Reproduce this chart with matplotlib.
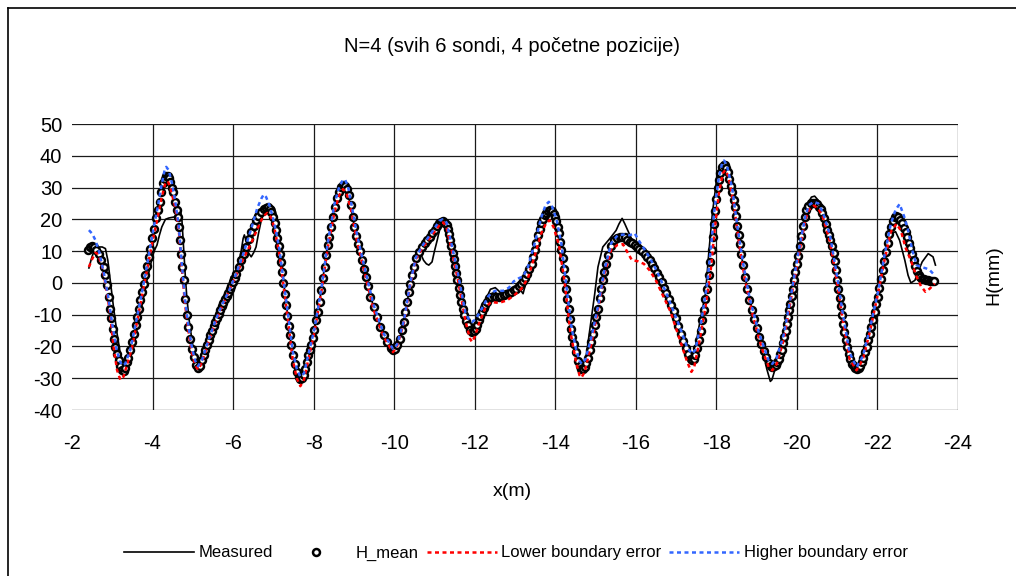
import matplotlib
matplotlib.use("Agg")
import matplotlib.pyplot as plt
from matplotlib.lines import Line2D

plt.rcParams['font.family'] = ['Liberation Sans', 'DejaVu Sans']
plt.rcParams['axes.unicode_minus'] = False

title = "N=4 (svih 6 sondi, 4 početne pozicije)"
x_label = "x(m)"
y_label = "H(mm)"
series_names = ["Measured", "H_mean", "Lower boundary error", "Higher boundary error"]
x_ticks = [-2, -4, -6, -8, -10, -12, -14, -16, -18, -20, -22, -24]
y_ticks = [-40, -30, -20, -10, 0, 10, 20, 30, 40, 50]

# H_mean (circles)
x_mean = [
-2.40,-2.45,-2.50,-2.55,-2.60,-2.66,-2.73,-2.79,-2.83,-2.87,-2.91,-2.95,-2.98,-3.01,-3.04,-3.08,-3.12,-3.16,-3.20,-3.24,
-3.28,-3.32,-3.36,-3.40,-3.45,-3.49,-3.54,-3.58,-3.62,-3.66,-3.70,-3.74,-3.78,-3.82,-3.86,-3.90,-3.94,-3.99,-4.03,-4.08,
-4.13,-4.18,-4.22,-4.27,-4.31,-4.34,-4.38,-4.41,-4.44,-4.48,-4.51,-4.56,-4.60,-4.63,-4.66,-4.69,-4.71,-4.74,-4.77,-4.81,
-4.85,-4.89,-4.94,-4.98,-5.02,-5.08,-5.13,-5.18,-5.23,-5.27,-5.31,-5.35,-5.39,-5.43,-5.47,-5.52,-5.56,-5.60,-5.64,-5.68,
-5.72,-5.76,-5.80,-5.84,-5.88,-5.92,-5.96,-6.00,-6.04,-6.08,-6.14,-6.20,-6.27,-6.33,-6.39,-6.45,-6.51,-6.57,-6.63,-6.70,
-6.76,-6.82,-6.86,-6.91,-6.95,-6.99,-7.03,-7.07,-7.10,-7.13,-7.16,-7.19,-7.22,-7.25,-7.28,-7.31,-7.35,-7.38,-7.41,-7.44,
-7.48,-7.53,-7.58,-7.63,-7.67,-7.71,-7.75,-7.79,-7.83,-7.87,-7.91,-7.94,-7.98,-8.02,-8.06,-8.10,-8.15,-8.19,-8.23,-8.27,
-8.31,-8.35,-8.39,-8.43,-8.48,-8.52,-8.58,-8.63,-8.68,-8.74,-8.78,-8.82,-8.87,-8.92,-8.97,-9.01,-9.06,-9.11,-9.16,-9.21,
-9.26,-9.30,-9.35,-9.41,-9.49,-9.58,-9.66,-9.74,-9.83,-9.91,-9.97,-10.02,-10.07,-10.14,-10.20,-10.24,-10.28,-10.32,-10.36,-10.40,
-10.45,-10.49,-10.54,-10.61,-10.69,-10.76,-10.82,-10.88,-10.94,-11.01,-11.07,-11.12,-11.16,-11.21,-11.26,-11.30,-11.33,-11.36,-11.39,-11.42,
-11.45,-11.48,-11.51,-11.54,-11.57,-11.60,-11.63,-11.66,-11.70,-11.74,-11.78,-11.83,-11.88,-11.93,-11.98,-12.02,-12.06,-12.10,-12.14,-12.18,
-12.22,-12.26,-12.30,-12.35,-12.41,-12.47,-12.54,-12.60,-12.66,-12.72,-12.78,-12.84,-12.90,-12.97,-13.03,-13.10,-13.16,-13.21,-13.26,-13.31,
-13.36,-13.41,-13.45,-13.49,-13.53,-13.57,-13.61,-13.65,-13.70,-13.74,-13.78,-13.82,-13.88,-13.92,-13.96,-14.00,-14.03,-14.06,-14.09,-14.12,
-14.15,-14.18,-14.21,-14.24,-14.27,-14.30,-14.33,-14.36,-14.39,-14.42,-14.46,-14.51,-14.56,-14.61,-14.65,-14.69,-14.73,-14.77,-14.81,-14.85,
-14.89,-14.94,-14.98,-15.02,-15.06,-15.10,-15.14,-15.18,-15.22,-15.27,-15.32,-15.39,-15.47,-15.53,-15.60,-15.66,-15.72,-15.78,-15.85,-15.91,
-15.97,-16.03,-16.09,-16.15,-16.22,-16.28,-16.34,-16.40,-16.46,-16.52,-16.58,-16.64,-16.70,-16.76,-16.82,-16.88,-16.94,-16.99,-17.05,-17.11,
-17.17,-17.24,-17.30,-17.36,-17.40,-17.44,-17.48,-17.53,-17.57,-17.61,-17.65,-17.69,-17.73,-17.77,-17.81,-17.85,-17.88,-17.91,-17.94,-17.97,
-18.00,-18.03,-18.06,-18.10,-18.14,-18.18,-18.22,-18.25,-18.28,-18.32,-18.36,-18.39,-18.43,-18.46,-18.49,-18.52,-18.55,-18.58,-18.62,-18.66,
-18.71,-18.77,-18.82,-18.88,-18.94,-19.00,-19.06,-19.12,-19.18,-19.24,-19.30,-19.35,-19.39,-19.43,-19.47,-19.51,-19.55,-19.59,-19.62,-19.66,
-19.69,-19.72,-19.75,-19.78,-19.81,-19.84,-19.87,-19.90,-19.93,-19.96,-19.99,-20.03,-20.07,-20.11,-20.15,-20.19,-20.23,-20.28,-20.34,-20.40,
-20.46,-20.51,-20.55,-20.59,-20.63,-20.67,-20.71,-20.75,-20.79,-20.83,-20.87,-20.91,-20.94,-20.97,-21.00,-21.03,-21.06,-21.09,-21.12,-21.15,
-21.18,-21.21,-21.25,-21.29,-21.33,-21.37,-21.41,-21.45,-21.49,-21.53,-21.57,-21.61,-21.65,-21.69,-21.73,-21.77,-21.81,-21.85,-21.89,-21.93,
-21.97,-22.01,-22.05,-22.09,-22.13,-22.17,-22.21,-22.25,-22.29,-22.33,-22.38,-22.43,-22.47,-22.52,-22.57,-22.62,-22.66,-22.70,-22.74,-22.78,
-22.82,-22.86,-22.90,-22.94,-22.98,-23.02,-23.06,-23.11,-23.16,-23.21,-23.26,-23.31,-23.36,-23.41]
h_mean = [
10.3,11.2,11.6,11.4,10.3,9.2,7.1,5.0,2.4,-0.7,-4.4,-8.1,-11.2,-14.4,-17.5,-20.2,-22.3,-24.4,-26.3,-27.3,
-27.6,-26.7,-25.0,-23.6,-21.2,-18.6,-16.0,-13.3,-10.7,-8.1,-5.5,-2.8,-0.2,2.4,5.3,8.2,10.8,14.0,17.1,20.3,
22.9,25.5,28.7,31.3,32.8,33.5,33.7,33.0,31.6,30.0,28.7,25.5,23.0,20.8,17.5,13.5,9.0,5.0,0.8,-5.0,
-10.0,-13.9,-17.5,-20.7,-23.3,-25.9,-26.7,-26.0,-24.4,-22.8,-21.2,-19.6,-18.1,-16.5,-15.0,-13.6,-12.3,-11.0,-9.8,-8.6,
-7.4,-6.3,-5.2,-4.2,-3.1,-2.0,-1.0,0.2,1.4,2.9,5.0,7.1,9.2,11.3,13.7,16.1,18.0,19.7,21.2,22.4,
23.2,23.7,23.8,23.3,22.4,20.8,18.7,16.5,14.0,11.5,9.0,6.5,3.5,0.0,-3.5,-7.0,-10.5,-13.5,-16.5,-19.5,
-22.6,-25.4,-28.0,-29.5,-30.1,-29.9,-29.0,-27.2,-25.0,-22.8,-21.0,-19.5,-17.3,-14.9,-11.8,-9.1,-6.0,-2.3,1.4,5.0,
8.7,11.9,14.5,17.6,20.8,23.8,26.6,28.7,30.2,30.8,30.5,29.5,27.6,24.5,20.8,17.6,14.6,12.2,10.0,7.3,
4.5,1.9,-1.0,-4.4,-7.6,-10.7,-13.9,-16.5,-18.6,-20.5,-21.2,-20.8,-19.7,-17.5,-14.9,-12.3,-9.1,-6.0,-2.8,-0.2,
2.4,5.0,7.7,9.8,11.3,12.4,13.4,14.5,15.6,16.8,17.9,18.7,19.2,19.5,19.0,18.2,17.0,15.3,13.5,11.5,
9.5,7.5,5.3,3.0,0.8,-1.5,-3.8,-6.0,-8.3,-10.2,-11.9,-13.4,-14.8,-15.4,-15.0,-14.4,-13.2,-11.8,-10.4,-9.1,
-8.0,-7.0,-5.9,-4.9,-4.4,-4.2,-4.3,-4.4,-4.2,-3.9,-3.5,-3.2,-2.8,-2.3,-1.8,-0.9,-0.2,0.6,1.6,2.7,
4.3,6.1,8.2,10.3,12.7,15.1,17.0,18.7,20.1,21.3,22.1,22.7,22.9,22.5,21.8,20.8,19.5,17.7,15.6,13.0,
10.5,7.7,4.5,1.3,-1.8,-5.0,-8.3,-11.5,-14.5,-17.0,-19.3,-21.8,-24.5,-26.3,-27.0,-27.0,-26.5,-25.3,-23.5,-21.2,
-18.6,-16.0,-13.3,-10.7,-8.1,-4.9,-1.8,0.8,3.5,6.1,8.9,11.7,13.5,14.2,14.5,14.5,14.3,13.6,12.9,12.4,
11.9,11.4,10.8,10.0,9.2,8.2,7.1,6.0,4.6,3.2,1.7,0.2,-1.5,-3.2,-5.0,-7.0,-9.0,-11.0,-13.5,-16.0,
-18.3,-20.5,-22.5,-23.9,-24.4,-24.0,-22.8,-20.5,-18.0,-15.0,-11.8,-8.5,-5.2,-1.8,2.4,6.5,10.5,14.5,18.5,22.5,
26.5,29.8,32.3,34.5,36.4,37.2,37.0,36.2,34.8,32.8,30.5,28.5,26.0,23.8,21.0,18.0,15.2,12.3,9.0,5.6,
1.9,-1.8,-5.3,-8.5,-11.5,-14.3,-16.9,-19.3,-21.4,-23.3,-25.1,-26.1,-26.5,-26.3,-25.9,-25.0,-23.8,-22.5,-21.0,-19.0,
-17.0,-15.0,-13.0,-10.7,-8.6,-6.5,-4.2,-1.8,0.8,3.5,5.9,8.5,11.6,14.8,18.0,20.8,22.8,24.2,25.0,25.2,
25.1,24.7,24.0,23.2,22.1,20.5,18.6,16.7,15.0,13.4,11.6,9.3,6.8,4.0,1.0,-1.8,-4.6,-7.4,-10.2,-12.8,
-15.4,-17.9,-20.3,-22.4,-24.1,-25.4,-26.3,-26.8,-27.0,-26.8,-26.1,-25.0,-23.5,-21.9,-20.1,-18.1,-16.0,-13.9,-11.8,-9.3,
-6.8,-4.4,-1.7,1.2,4.2,7.0,9.8,12.5,15.3,17.6,19.5,20.6,21.0,20.7,19.9,18.7,17.4,15.9,14.3,12.6,
10.9,9.0,7.1,5.4,3.8,2.6,1.8,1.3,1.1,1.0,0.8,0.7,0.6,0.6]

# Measured (solid black line)
x_meas = [
-2.42,-2.48,-2.55,-2.61,-2.68,-2.75,-2.83,-2.89,-2.95,-3.03,-3.12,-3.20,-3.26,-3.31,-3.36,-3.41,-3.53,-3.61,-3.70,-3.78,
-3.86,-3.94,-4.00,-4.05,-4.11,-4.17,-4.23,-4.32,-4.40,-4.48,-4.56,-4.60,-4.63,-4.69,-4.73,-4.77,-4.81,-4.85,-4.91,-4.98,
-5.06,-5.13,-5.20,-5.30,-5.40,-5.50,-5.60,-5.70,-5.79,-5.88,-5.95,-6.04,-6.12,-6.20,-6.25,-6.28,-6.33,-6.38,-6.45,-6.51,
-6.57,-6.63,-6.70,-6.76,-6.82,-6.88,-6.95,-7.00,-7.03,-7.07,-7.10,-7.15,-7.21,-7.26,-7.30,-7.34,-7.38,-7.44,-7.53,-7.60,
-7.67,-7.73,-7.82,-7.94,-8.02,-8.10,-8.19,-8.27,-8.35,-8.43,-8.52,-8.63,-8.72,-8.81,-8.92,-9.01,-9.14,-9.26,-9.41,-9.58,
-9.74,-9.91,-9.98,-10.07,-10.20,-10.32,-10.45,-10.54,-10.61,-10.67,-10.73,-10.80,-10.86,-10.94,-11.00,-11.07,-11.13,-11.19,-11.24,-11.30,
-11.36,-11.48,-11.59,-11.70,-11.83,-11.92,-12.02,-12.18,-12.30,-12.39,-12.51,-12.62,-12.72,-12.84,-12.97,-13.08,-13.15,-13.20,-13.25,-13.32,
-13.41,-13.49,-13.57,-13.65,-13.74,-13.84,-13.92,-14.00,-14.09,-14.19,-14.27,-14.34,-14.41,-14.51,-14.60,-14.66,-14.73,-14.80,-14.89,-14.98,
-15.06,-15.18,-15.35,-15.51,-15.58,-15.66,-15.73,-15.80,-15.93,-16.09,-16.22,-16.34,-16.47,-16.62,-16.74,-16.86,-16.99,-17.11,-17.24,-17.32,
-17.38,-17.46,-17.55,-17.64,-17.73,-17.81,-17.90,-18.02,-18.14,-18.22,-18.30,-18.39,-18.48,-18.57,-18.66,-18.77,-18.91,-19.05,-19.16,-19.25,
-19.34,-19.38,-19.45,-19.55,-19.62,-19.73,-19.84,-19.92,-20.01,-20.09,-20.17,-20.25,-20.36,-20.44,-20.53,-20.61,-20.73,-20.86,-20.94,-21.02,
-21.11,-21.19,-21.27,-21.36,-21.45,-21.52,-21.60,-21.73,-21.89,-22.02,-22.12,-22.22,-22.35,-22.45,-22.55,-22.68,-22.76,-22.83,-22.93,-23.01,
-23.11,-23.26,-23.38,-23.44]
h_meas = [
4.7,7.5,10.3,11.0,11.3,11.3,10.8,7.1,0.8,-7.6,-16.0,-22.3,-25.5,-26.5,-26.0,-24.9,-20.2,-14.9,-9.6,-4.4,
0.8,5.0,8.5,10.3,11.9,15.0,17.6,20.0,20.4,20.6,20.8,22.5,23.4,23.4,19.7,11.3,2.9,-4.4,-11.8,-18.1,
-24.4,-26.7,-25.5,-21.5,-17.5,-13.5,-10.5,-7.5,-4.0,-1.5,1.9,2.9,5.5,10.0,14.0,15.1,13.0,9.5,8.2,9.5,
11.3,15.5,19.7,22.0,23.4,24.0,24.1,23.8,23.4,21.5,19.7,14.5,7.1,-0.2,-4.4,-8.6,-12.3,-19.7,-25.4,-29.0,
-30.5,-29.8,-25.4,-20.2,-14.9,-9.1,-2.3,5.0,11.9,17.6,24.0,28.7,30.5,29.5,24.5,17.6,10.3,4.0,-4.4,-10.7,
-16.5,-20.5,-21.5,-20.0,-14.9,-6.0,2.4,7.7,9.8,8.8,7.1,6.0,5.6,6.6,10.0,13.5,17.0,19.7,19.3,18.0,
15.6,9.2,1.9,-6.5,-12.9,-15.0,-14.0,-8.5,-4.5,-2.0,-1.5,-2.8,-3.0,-2.5,-2.0,-1.5,-2.5,-3.4,-1.0,2.9,
6.1,10.3,15.1,18.7,21.3,22.5,22.0,19.5,15.6,7.7,-1.3,-8.6,-16.0,-21.8,-25.5,-27.0,-26.0,-20.0,-11.8,-3.4,
5.0,11.3,13.9,16.5,18.5,20.3,18.5,16.5,12.9,10.3,9.0,7.0,4.5,0.0,-3.9,-7.6,-11.8,-16.0,-20.5,-23.5,
-24.9,-22.0,-15.0,-9.0,-3.4,9.2,21.8,33.9,37.8,36.5,33.0,28.0,22.5,12.9,5.6,-1.8,-9.6,-16.5,-21.5,-27.0,
-31.0,-30.5,-27.5,-23.0,-20.0,-14.9,-7.0,0.3,7.1,13.4,19.7,24.5,27.0,27.3,26.0,23.0,17.6,12.0,7.1,-0.7,
-8.1,-16.0,-22.0,-25.5,-27.3,-27.0,-25.0,-20.0,-11.8,-3.9,3.5,9.2,15.6,16.1,13.4,7.1,2.4,0.0,0.8,3.5,
6.6,9.2,8.2,5.6]

# Lower boundary error (red dashed)
x_low = [
-2.42,-2.50,-2.58,-2.65,-2.75,-2.85,-2.95,-3.03,-3.12,-3.20,-3.28,-3.36,-3.49,-3.62,-3.74,-3.86,-3.99,-4.10,-4.22,-4.31,
-4.38,-4.44,-4.56,-4.65,-4.73,-4.81,-4.89,-4.98,-5.06,-5.13,-5.23,-5.39,-5.56,-5.72,-5.90,-6.08,-6.25,-6.45,-6.62,-6.75,
-6.85,-6.95,-7.03,-7.15,-7.26,-7.38,-7.48,-7.58,-7.67,-7.76,-7.87,-8.02,-8.19,-8.35,-8.52,-8.63,-8.73,-8.81,-8.92,-9.08,
-9.26,-9.49,-9.74,-9.97,-10.07,-10.24,-10.40,-10.54,-10.69,-10.94,-11.16,-11.22,-11.30,-11.41,-11.59,-11.77,-11.88,-11.93,-12.00,-12.10,
-12.26,-12.40,-12.60,-12.80,-12.97,-13.15,-13.32,-13.49,-13.65,-13.78,-13.86,-13.96,-14.09,-14.23,-14.37,-14.51,-14.60,-14.65,-14.73,-14.89,
-15.06,-15.22,-15.39,-15.55,-15.68,-15.80,-15.90,-16.05,-16.20,-16.34,-16.49,-16.62,-16.86,-17.11,-17.28,-17.38,-17.45,-17.57,-17.73,-17.86,
-17.96,-18.06,-18.16,-18.22,-18.30,-18.43,-18.57,-18.71,-18.91,-19.14,-19.30,-19.39,-19.50,-19.68,-19.88,-20.05,-20.21,-20.30,-20.42,-20.53,
-20.65,-20.82,-20.98,-21.15,-21.31,-21.48,-21.64,-21.81,-22.02,-22.18,-22.33,-22.47,-22.58,-22.70,-22.83,-22.97,-23.08,-23.19,-23.30,-23.42]
h_low = [
5.0,7.5,9.5,9.0,5.0,-1.5,-10.0,-20.0,-27.5,-30.5,-29.5,-26.0,-20.5,-12.0,-4.0,4.0,12.5,19.0,26.5,31.0,
32.0,30.0,24.0,17.0,4.0,-7.0,-15.0,-22.0,-26.0,-27.3,-25.0,-18.5,-12.5,-7.5,-2.5,2.5,7.5,12.5,17.5,21.0,
22.0,20.5,17.0,9.0,-1.5,-13.5,-24.0,-30.0,-32.5,-30.5,-24.0,-15.5,-3.0,11.0,22.5,27.5,29.5,28.5,23.5,13.0,
3.5,-8.5,-17.0,-21.8,-20.0,-12.5,-0.5,7.5,10.8,15.0,18.8,19.0,17.5,11.5,0.5,-12.0,-17.5,-18.6,-17.0,-13.0,
-8.0,-6.0,-6.3,-5.5,-4.0,-2.0,1.5,8.5,15.5,19.0,19.7,17.5,12.0,0.5,-15.0,-24.5,-29.0,-29.8,-28.0,-19.5,
-8.5,3.0,10.5,12.0,12.2,9.5,7.2,6.8,6.0,4.0,1.0,-2.5,-9.0,-18.5,-25.0,-28.0,-26.5,-19.0,-7.5,4.0,
17.0,28.0,34.5,35.5,33.5,25.0,12.0,1.0,-10.5,-21.0,-26.5,-27.5,-25.5,-17.5,-3.0,9.0,20.0,23.0,24.3,23.5,
20.5,13.0,1.5,-12.5,-24.0,-27.5,-24.0,-15.5,-3.0,7.5,16.0,18.6,16.5,11.0,7.1,2.0,-1.0,-2.8,-1.8,-0.2]

# Higher boundary error (blue dashed)
x_high = [
-2.42,-2.50,-2.58,-2.68,-2.80,-2.90,-3.00,-3.10,-3.18,-3.25,-3.32,-3.45,-3.57,-3.70,-3.82,-3.94,-4.03,-4.13,-4.22,-4.30,
-4.34,-4.40,-4.48,-4.56,-4.65,-4.73,-4.81,-4.89,-4.98,-5.06,-5.13,-5.23,-5.39,-5.56,-5.72,-5.90,-6.08,-6.25,-6.45,-6.60,
-6.70,-6.76,-6.82,-6.90,-6.98,-7.07,-7.15,-7.26,-7.38,-7.48,-7.58,-7.67,-7.76,-7.87,-8.02,-8.19,-8.35,-8.52,-8.63,-8.72,
-8.78,-8.85,-8.92,-9.08,-9.26,-9.49,-9.74,-9.97,-10.07,-10.24,-10.40,-10.54,-10.69,-10.94,-11.12,-11.20,-11.30,-11.41,-11.59,-11.77,
-11.88,-11.93,-12.02,-12.18,-12.35,-12.50,-12.70,-12.85,-12.97,-13.10,-13.20,-13.32,-13.49,-13.65,-13.76,-13.84,-13.92,-14.03,-14.15,-14.27,
-14.41,-14.51,-14.60,-14.66,-14.75,-14.89,-15.06,-15.22,-15.39,-15.55,-15.70,-15.85,-15.97,-16.09,-16.22,-16.34,-16.49,-16.62,-16.86,-17.11,
-17.28,-17.40,-17.48,-17.62,-17.77,-17.88,-17.96,-18.06,-18.14,-18.19,-18.26,-18.39,-18.52,-18.66,-18.82,-19.05,-19.30,-19.39,-19.50,-19.68,
-19.88,-20.05,-20.21,-20.30,-20.42,-20.53,-20.65,-20.82,-20.98,-21.15,-21.31,-21.48,-21.64,-21.81,-22.02,-22.18,-22.33,-22.45,-22.55,-22.66,
-22.76,-22.87,-22.97,-23.08,-23.20,-23.30,-23.42]
h_high = [
16.6,15.5,13.5,9.5,2.5,-4.5,-13.0,-20.5,-24.5,-26.0,-25.5,-21.0,-13.5,-5.5,2.5,11.0,17.5,24.0,30.5,35.5,
36.5,35.5,31.5,26.0,18.0,5.5,-5.5,-13.5,-20.5,-24.5,-26.2,-24.2,-18.0,-12.0,-7.0,-2.5,3.0,9.0,17.0,23.5,
26.5,27.8,27.0,24.5,21.0,16.0,10.5,0.0,-11.5,-21.5,-27.0,-29.5,-28.5,-22.5,-14.5,-2.0,12.5,25.0,30.0,32.3,
32.5,30.5,26.0,15.0,5.0,-7.0,-16.0,-20.8,-19.5,-12.0,0.0,8.0,11.5,16.0,19.5,20.0,19.0,13.0,2.5,-9.5,
-12.0,-12.3,-11.5,-8.0,-4.0,-2.5,-2.5,-1.5,0.5,1.5,2.0,5.0,12.5,20.5,24.5,25.5,24.0,20.0,12.5,-0.5,
-14.5,-20.5,-24.5,-25.5,-24.0,-17.5,-7.5,4.0,12.5,15.0,15.2,15.0,15.6,13.0,10.5,8.0,4.5,1.0,-6.5,-14.5,
-20.5,-22.3,-21.0,-12.5,-0.5,13.0,24.0,33.0,37.5,38.5,37.0,30.0,18.0,6.5,-4.5,-15.5,-24.5,-25.5,-23.5,-16.0,
-2.0,10.5,21.0,24.5,25.5,25.0,22.0,15.0,3.5,-10.5,-22.0,-26.5,-23.0,-14.5,-2.5,9.0,18.5,23.0,24.8,21.0,
16.6,10.0,5.6,5.0,4.6,4.0,2.4]

fig = plt.figure(figsize=(10.16, 5.76), dpi=100)
W, H = 1016.0, 576.0
ax = fig.add_axes([72 / W, 1 - 410 / H, 886 / W, 286 / H])

ax.plot(x_meas, h_meas, color='black', lw=1.2, zorder=3, label=series_names[0])
ax.plot(x_mean, h_mean, ls='none', marker='o', ms=5.0, mfc='white', mec='black',
        mew=1.8, zorder=4, label=series_names[1])
ax.plot(x_low, h_low, color='#FF0000', lw=1.8, ls=(0, (1.6, 1.4)), zorder=5,
        label=series_names[2])
ax.plot(x_high, h_high, color='#3366FF', lw=1.8, ls=(0, (1.6, 1.4)), zorder=6,
        label=series_names[3])

ax.set_xlim(-2, -24)
ax.set_ylim(-40, 50)
ax.set_xticks(x_ticks)
ax.set_yticks(y_ticks)
ax.tick_params(axis='both', length=0, labelsize=14.5, colors='black')
ax.tick_params(axis='x', pad=17)
ax.tick_params(axis='y', pad=7)
for s in ax.spines.values():
    s.set_visible(False)
ax.grid(True, color='#1a1a1a', lw=0.9)
ax.set_axisbelow(True)
ax.get_xgridlines()[0].set_visible(False)

fig.legend(loc='center', bbox_to_anchor=(516 / W, 1 - 553 / H), ncol=4, frameon=False,
           fontsize=12, handlelength=4.2, handletextpad=0.25, columnspacing=0.5)

fig.text(511.5 / W, 1 - 47 / H, title, ha='center', va='center', fontsize=14.5)
fig.text(512 / W, 1 - 492 / H, x_label, ha='center', va='center', fontsize=14)
fig.text(994 / W, 1 - 275 / H, y_label, ha='center', va='center', fontsize=14, rotation=90)

fig.add_artist(Line2D([7.5 / W, 7.5 / W], [0, 1 - 7.5 / H], color='black', lw=1.2))
fig.add_artist(Line2D([7.5 / W, 1], [1 - 7.5 / H, 1 - 7.5 / H], color='black', lw=1.2))

fig.savefig('out.png', dpi=100)
